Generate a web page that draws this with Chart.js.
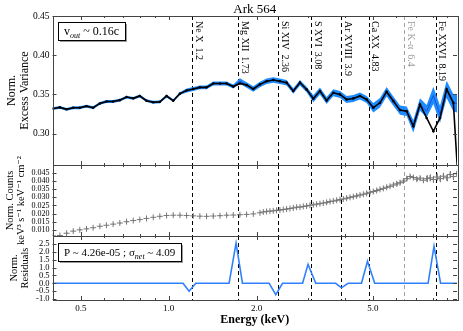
<!DOCTYPE html>
<html>
<head>
<meta charset="utf-8">
<script src="https://cdn.jsdelivr.net/npm/chart.js@4.4.0/dist/chart.umd.min.js"></script>
<style>
  html, body { margin: 0; padding: 0; background: #fff; }
  #wrap { position: relative; width: 463px; height: 331px; }
  #wrap canvas { position: absolute; left: 0; top: 0; }
</style>
</head>
<body>
<div id="wrap">
  <canvas id="varPanel" width="463" height="331"></canvas>
  <canvas id="countPanel" width="463" height="331"></canvas>
  <canvas id="residPanel" width="463" height="331"></canvas>
</div>
<script>
const serif = '"Liberation Serif", "DejaVu Serif", serif';

// excess variance spectrum (top panel)
const varEnergy = [0.402,0.424,0.447,0.471,0.496,0.523,0.551,0.581,0.612,0.645,0.680,0.717,0.756,0.796,0.839,0.885,0.932,0.983,1.036,1.092,1.151,1.213,1.278,1.347,1.420,1.497,1.578,1.663,1.752,1.847,1.947,2.052,2.162,2.279,2.402,2.532,2.669,2.813,2.964,3.125,3.293,3.471,3.658,3.856,4.064,4.283,4.515,4.758,5.015,5.286,5.571,5.872,6.189,6.523,6.875,7.246,7.637,8.050,8.484,8.942,9.425,9.934];
const varData = [0.332,0.3335,0.331,0.333,0.333,0.335,0.333,0.3385,0.341,0.341,
  0.3427,0.3466,0.345,0.348,0.342,0.340,0.3405,0.348,0.342,0.351,
  0.355,0.357,0.359,0.359,0.364,0.364,0.364,0.360,0.364,0.362,
  0.357,0.3628,0.3667,0.3683,0.3667,0.365,0.3543,0.365,0.3564,0.3445,
  0.3543,0.3423,0.3521,0.350,0.3436,0.3449,0.348,0.3436,0.333,0.3393,
  0.3535,0.3415,0.330,0.3286,0.3094,0.3372,0.320,0.303,0.320,0.3564,
  0.3393,0.200];
const varModel = [0.332,0.3335,0.331,0.333,0.333,0.335,0.333,0.3385,0.341,0.341,
  0.3427,0.3466,0.345,0.348,0.342,0.340,0.3405,0.348,0.342,0.351,
  0.355,0.357,0.359,0.359,0.364,0.364,0.364,0.360,0.367,0.362,
  0.357,0.3628,0.3667,0.3683,0.3667,0.365,0.3543,0.365,0.3564,0.3445,
  0.3543,0.3423,0.3521,0.350,0.3436,0.3449,0.348,0.3436,0.333,0.3393,
  0.3535,0.3415,0.330,0.3286,0.3094,0.3372,0.3286,0.3487,0.3244,0.3564,
  0.3393,0.337];
const varError = [0.0018,0.0018,0.0018,0.0018,0.0018,0.0018,0.0018,0.0018,0.0018,0.0018,
  0.0018,0.0018,0.0018,0.0018,0.0018,0.0018,0.0018,0.0018,0.0018,0.0018,
  0.0025,0.0025,0.0025,0.0025,0.0025,0.0025,0.0025,0.0025,
  0.0035,0.0035,0.0035,0.0035,0.0035,0.0035,0.0035,0.0035,0.0035,0.0035,0.0035,
  0.0045,0.0045,0.0045,0.0045,0.0045,0.0045,0.0045,0.0045,0.0045,
  0.006,0.006,0.006,0.006,0.006,0.006,
  0.008,0.008,0.008,
  0.011,0.011,0.011,0.011,0.011];

// normalised counts (middle panel)
const countEnergy = [0.402,0.424,0.447,0.471,0.496,0.523,0.551,0.581,0.612,0.645,0.680,0.717,0.756,0.796,0.839,0.885,0.932,0.983,1.036,1.092,1.151,1.213,1.278,1.347,1.420,1.497,1.578,1.663,1.752,1.847,1.947,
  2.052,2.107,2.162,2.220,2.279,2.339,2.402,2.466,2.532,2.600,2.669,2.740,2.813,2.888,2.964,3.043,3.125,3.208,3.293,3.381,
  3.471,3.564,3.658,3.756,3.856,3.959,4.064,4.173,4.283,4.397,4.515,4.636,4.758,4.885,5.015,5.149,5.286,5.427,5.571,5.720,
  5.872,6.029,6.189,6.354,6.523,6.697,6.875,7.059,7.246,7.439,7.637,7.841,8.050,8.265,8.484,8.711,8.942,9.181,9.425,9.677];
const countRate = [0.0063,0.0065,0.0079,0.0092,0.0100,0.0106,0.0113,0.0122,0.0128,0.0135,0.0142,0.0150,0.0157,0.0163,0.0170,0.0177,0.0183,0.0188,0.0190,0.0190,0.0188,0.0186,0.0184,0.0183,0.0185,0.0187,0.0190,0.0191,0.0193,0.0195,0.0198,
  0.0205,0.0210,0.0213,0.0215,0.0217,0.0220,0.0222,0.0225,0.0228,0.0231,
  0.0235,0.0239,0.0240,0.0244,0.0247,0.0251,0.0254,0.0258,0.0261,0.0265,
  0.0269,0.0274,0.0277,0.0282,0.0286,0.0290,0.0295,0.0300,0.0304,0.0309,
  0.0314,0.0319,0.0325,0.0331,0.0336,0.0342,0.0349,0.0355,0.0362,0.0368,
  0.0376,0.0383,0.0390,0.0400,0.0415,0.0428,0.0422,0.0412,0.0418,0.0405,
  0.0415,0.0420,0.0410,0.0425,0.0415,0.0430,0.0420,0.0440,0.0428,0.0445];
const countError = [0.0003,0.0003,0.0003,0.0003,0.0003,0.0003,0.0003,0.0003,0.0003,0.0003,0.0003,0.0003,0.0003,0.0003,0.0003,0.0003,0.0003,0.0003,0.0003,0.0003,0.0003,0.0003,0.0003,0.0003,0.0003,0.0003,0.0003,0.0003,0.0003,0.0003,0.0003,
  0.0004,0.0004,0.0004,0.0004,0.0004,0.0004,0.0004,0.0004,0.0004,0.0004,
  0.0004,0.0004,0.0004,0.0004,0.0004,0.0004,0.0004,0.0004,0.0004,0.0004,
  0.0007,0.0007,0.0007,0.0007,0.0007,0.0007,0.0007,0.0007,0.0007,0.0007,
  0.0007,0.0007,0.0007,0.0007,0.0007,0.0007,0.0007,0.0007,0.0007,0.0007,
  0.0012,0.0012,0.0012,0.0012,0.0012,0.0012,0.0012,0.0012,0.0012,0.0012,
  0.0022,0.0022,0.0022,0.0022,0.0022,0.0022,0.0022,0.0022,0.0022,0.0022];

// residuals (bottom panel)
const residEnergy = [0.40,1.119,1.174,1.237,1.609,1.700,1.788,2.206,2.325,2.452,2.872,2.998,3.186,3.727,3.902,4.111,4.569,4.790,5.071,7.724,8.093,8.525,9.70];
const residValue = [0,0,-0.5,0,0,2.55,0,0,-0.72,0,0,1.2,0,0,-0.29,0,0,1.4,0,0,2.35,0,0];

// emission lines
const lineEnergy = [1.2, 1.73, 2.36, 3.08, 3.9, 4.83, 6.4, 8.19];
const lineLabel = ['Ne X  1.2', 'Mg XII  1.73', 'Si XIV  2.36', 'S XVI  3.08', 'Ar XVIII  3.9', 'Ca XX  4.83', 'Fe K-\u03b1  6.4', 'Fe XXVI  8.19'];

// ticks
const varTicks = [0.30, 0.35, 0.40, 0.45];
const countTicks = [0.010, 0.015, 0.020, 0.025, 0.030, 0.035, 0.040, 0.045];
const residTicks = [-1.0, -0.5, 0.0, 0.5, 1.0, 1.5, 2.0, 2.5];
const energyMajor = [0.5, 1, 2, 5];
const energyMinor = [0.4, 0.6, 0.7, 0.8, 0.9, 3, 4, 6, 7, 8, 9];

Chart.defaults.font.family = serif;
Chart.defaults.color = '#000';

const pts = (xs, ys) => xs.map((x, i) => ({x: x, y: ys[i]}));

function energyAxis(showLabels) {
  return {
    type: 'logarithmic', min: 0.4, max: 9.7,
    afterBuildTicks: s => { s.ticks = energyMinor.concat(energyMajor).sort((a, b) => a - b).map(v => ({value: v})); },
    afterFit: s => { s.height = showLabels ? 31 : 0; },
    grid: {display: false, drawTicks: false},
    border: {display: false},
    ticks: {display: showLabels, autoSkip: false, maxRotation: 0, padding: 3, color: '#000',
      font: {family: serif, size: 9},
      callback: v => energyMajor.includes(v) ? v.toFixed(1) : ''},
    title: {display: showLabels, text: 'Energy (keV)', color: '#000',
      font: {family: serif, size: 12, weight: 'bold'}}
  };
}

function valueAxis(min, max, tickVals, digits, size, titleLines, titleSize, titlePad) {
  return {
    min: min, max: max,
    afterBuildTicks: s => { s.ticks = tickVals.map(v => ({value: v})); },
    afterFit: s => { s.width = 52.5; },
    grid: {display: false, drawTicks: false},
    border: {display: false},
    ticks: {autoSkip: false, padding: 3, color: '#000', font: {family: serif, size: size},
      callback: v => Number(v).toFixed(digits)},
    title: {display: true, text: titleLines, color: '#000',
      font: {family: serif, size: titleSize, lineHeight: 1.1}, padding: {top: titlePad, bottom: 0}}
  };
}

// frame with inward tick marks, plus the dashed line markers
function panelDecor(showLabels) {
  return {
    id: 'panelDecor',
    beforeDatasetsDraw(chart) {
      const {ctx, chartArea: a, scales: {x}} = chart;
      ctx.save();
      ctx.lineWidth = 1;
      ctx.setLineDash([4, 3]);
      lineEnergy.forEach((e, i) => {
        const px = Math.round(x.getPixelForValue(e)) + 0.5;
        ctx.strokeStyle = i === 6 ? '#a0a0a0' : '#000';
        ctx.beginPath();
        ctx.moveTo(px, a.top);
        ctx.lineTo(px, a.bottom);
        ctx.stroke();
      });
      ctx.setLineDash([]);
      if (showLabels) {
        ctx.font = '10px ' + serif;
        ctx.textAlign = 'left';
        ctx.textBaseline = 'bottom';
        lineEnergy.forEach((e, i) => {
          const px = x.getPixelForValue(e);
          ctx.save();
          ctx.translate(px + 1.5, a.top + 5);
          ctx.rotate(Math.PI / 2);
          ctx.fillStyle = i === 6 ? '#999' : '#000';
          ctx.fillText(lineLabel[i], 0, 0);
          ctx.restore();
        });
      }
      ctx.restore();
    },
    afterDatasetsDraw(chart) {
      const {ctx, chartArea: a, scales: {x, y}} = chart;
      ctx.save();
      ctx.strokeStyle = '#444';
      ctx.lineWidth = 1;
      ctx.strokeRect(Math.round(a.left) + 0.5, Math.round(a.top) + 0.5, Math.round(a.right - a.left), Math.round(a.bottom - a.top));
      ctx.beginPath();
      energyMajor.concat(energyMinor).forEach(e => {
        const px = Math.round(x.getPixelForValue(e)) + 0.5;
        const len = energyMajor.includes(e) ? 4 : 2;
        ctx.moveTo(px, a.bottom); ctx.lineTo(px, a.bottom - len);
        ctx.moveTo(px, a.top); ctx.lineTo(px, a.top + len);
      });
      y.ticks.forEach(t => {
        const py = Math.round(y.getPixelForValue(t.value)) + 0.5;
        ctx.moveTo(a.left, py); ctx.lineTo(a.left + 4, py);
        ctx.moveTo(a.right, py); ctx.lineTo(a.right - 4, py);
      });
      ctx.stroke();
      ctx.restore();
    }
  };
}

// annotation box: white box, grey drop shadow, text with an italic subscript
function noteBox(ctx, left, top, h, size, parts) {
  ctx.save();
  let w = 12;
  parts.forEach(p => {
    ctx.font = p.sub ? 'italic ' + Math.round(size * 0.7) + 'px ' + serif : size + 'px ' + serif;
    w += ctx.measureText(p.text).width;
  });
  w = Math.round(w);
  ctx.fillStyle = '#9a9a9a';
  ctx.fillRect(left + 2, top + 2, w, h);
  ctx.fillStyle = '#fff';
  ctx.fillRect(left, top, w, h);
  ctx.strokeStyle = '#000';
  ctx.lineWidth = 1;
  ctx.strokeRect(left + 0.5, top + 0.5, w, h);
  ctx.fillStyle = '#000';
  ctx.textBaseline = 'alphabetic';
  ctx.textAlign = 'left';
  let cx = left + 6;
  parts.forEach(p => {
    ctx.font = p.sub ? 'italic ' + Math.round(size * 0.7) + 'px ' + serif : size + 'px ' + serif;
    ctx.fillText(p.text, cx, top + h - 5 + (p.sub ? 3 : 0));
    cx += ctx.measureText(p.text).width;
  });
  ctx.restore();
}

const baseOpts = {
  responsive: false, animation: false, devicePixelRatio: 1,
  plugins: {legend: {display: false}, tooltip: {enabled: false}}
};

// top panel
new Chart(document.getElementById('varPanel'), {
  type: 'line',
  data: {
    datasets: [
      {label: 'data', data: pts(varEnergy, varData), borderColor: '#000', borderWidth: 1.6,
        pointRadius: 1.3, pointBackgroundColor: '#000', pointBorderWidth: 0, order: 0},
      {label: 'model', data: pts(varEnergy, varModel), borderColor: '#1d4fd6', borderWidth: 1,
        pointRadius: 0, order: 1},
      {label: 'upper', data: varEnergy.map((e, i) => ({x: e, y: varModel[i] + varError[i]})),
        borderWidth: 0, pointRadius: 0, backgroundColor: '#1e8cff', fill: '+1', order: 2},
      {label: 'lower', data: varEnergy.map((e, i) => ({x: e, y: varModel[i] - varError[i]})),
        borderWidth: 0, pointRadius: 0, fill: false, order: 3}
    ]
  },
  options: Object.assign({}, baseOpts, {
    layout: {padding: {left: 0, right: 6, top: 16, bottom: 166}},
    scales: {
      x: energyAxis(false),
      y: valueAxis(0.26, 0.45, varTicks, 2, 9.5, ['Norm.', 'Excess Variance'], 12, 5)
    }
  }),
  plugins: [panelDecor(true), {
    id: 'topNotes',
    afterDraw(chart) {
      const {ctx, chartArea: a} = chart;
      ctx.save();
      ctx.font = '13px ' + serif;
      ctx.fillStyle = '#000';
      ctx.textAlign = 'center';
      ctx.textBaseline = 'alphabetic';
      ctx.fillText('Ark 564', (a.left + a.right) / 2, a.top - 3);
      ctx.restore();
      noteBox(ctx, Math.round(a.left) + 5, Math.round(a.top) + 6, 18, 12,
        [{text: 'v'}, {text: 'out', sub: true}, {text: ' ~ 0.16c'}]);
    }
  }]
});

// middle panel
new Chart(document.getElementById('countPanel'), {
  type: 'line',
  data: {
    datasets: [
      {label: 'counts', data: pts(countEnergy, countRate), showLine: false,
        pointStyle: 'cross', pointRadius: 3, borderColor: '#777', borderWidth: 1}
    ]
  },
  options: Object.assign({}, baseOpts, {
    layout: {padding: {left: 0, right: 6, top: 165, bottom: 95}},
    scales: {
      x: energyAxis(false),
      y: valueAxis(0.0062, 0.0499, countTicks, 3, 8, ['Norm. Counts', 'keV\u00b3 s\u207b\u00b9 keV\u207b\u00b9 cm\u207b\u00b2'], 10.5, 4)
    }
  }),
  plugins: [panelDecor(false), {
    id: 'errorBars',
    beforeDatasetsDraw(chart) {
      const {ctx, chartArea: a, scales: {x, y}} = chart;
      ctx.save();
      ctx.beginPath();
      ctx.rect(a.left, a.top, a.right - a.left, a.bottom - a.top);
      ctx.clip();
      ctx.strokeStyle = '#888';
      ctx.lineWidth = 1;
      ctx.beginPath();
      countEnergy.forEach((e, i) => {
        const px = Math.round(x.getPixelForValue(e)) + 0.5;
        ctx.moveTo(px, y.getPixelForValue(countRate[i] - countError[i]));
        ctx.lineTo(px, y.getPixelForValue(countRate[i] + countError[i]));
      });
      ctx.stroke();
      ctx.restore();
    }
  }]
});

// bottom panel
new Chart(document.getElementById('residPanel'), {
  type: 'line',
  data: {
    datasets: [
      {label: 'residuals', data: pts(residEnergy, residValue), borderColor: '#2f80ff',
        borderWidth: 1.6, pointRadius: 0}
    ]
  },
  options: Object.assign({}, baseOpts, {
    layout: {padding: {left: 0, right: 6, top: 236, bottom: 0}},
    scales: {
      x: energyAxis(true),
      y: valueAxis(-1.06, 3.0, residTicks, 1, 8.5, ['Norm.', 'Residuals'], 10.5, 8)
    }
  }),
  plugins: [panelDecor(false), {
    id: 'residNote',
    afterDraw(chart) {
      const a = chart.chartArea;
      noteBox(chart.ctx, Math.round(a.left) + 5, Math.round(a.top) + 7, 18, 11,
        [{text: 'P ~ 4.26e-05 ; \u03c3'}, {text: 'net', sub: true}, {text: ' ~ 4.09'}]);
    }
  }]
});
</script>
</body>
</html>
